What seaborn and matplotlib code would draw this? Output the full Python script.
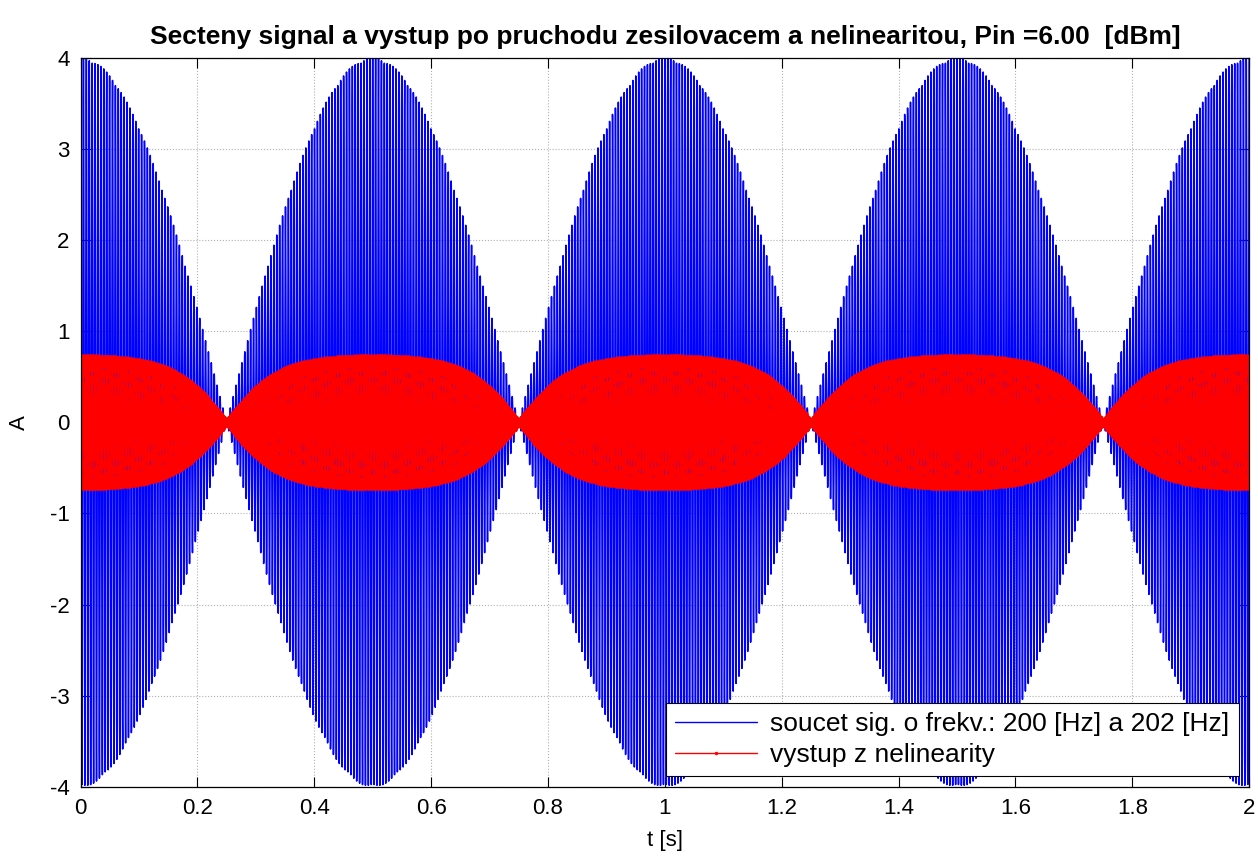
import numpy as np
import pandas as pd
import seaborn as sns
import matplotlib.pyplot as plt

# parametry signalu (z legendy a os)
f1 = 200.0          # [Hz]
f2 = 202.0          # [Hz]
amp = 2.0           # amplituda kazde slozky
fs = 5000.0         # vzorkovani
t_end = 2.0         # [s]
sat_level = 0.765   # uroven saturace nelinearity
gain = 0.42         # zisk pred nelinearitou
pin_dbm = 6.00

x_ticks = [0, 0.2, 0.4, 0.6, 0.8, 1.0, 1.2, 1.4, 1.6, 1.8, 2.0]
x_labels = ["0", "0.2", "0.4", "0.6", "0.8", "1", "1.2", "1.4", "1.6", "1.8", "2"]
y_ticks = [-4, -3, -2, -1, 0, 1, 2, 3, 4]

t = np.arange(0, t_end + 1 / fs, 1 / fs)
soucet = amp * np.cos(2 * np.pi * f1 * t) + amp * np.cos(2 * np.pi * f2 * t)
vystup = sat_level * np.tanh(gain * soucet)
df = pd.DataFrame({"t": t, "soucet": soucet, "vystup": vystup})

sns.set_style("ticks")
plt.rcParams["font.family"] = ["Liberation Sans", "DejaVu Sans"]
plt.rcParams["axes.unicode_minus"] = False
plt.rcParams["xtick.direction"] = "in"
plt.rcParams["ytick.direction"] = "in"
plt.rcParams["text.color"] = "black"
plt.rcParams["axes.labelcolor"] = "black"
plt.rcParams["xtick.color"] = "black"
plt.rcParams["ytick.color"] = "black"

fig, ax = plt.subplots(figsize=(12.58, 8.59), dpi=100)
fig.subplots_adjust(left=0.064, right=0.993, top=0.933, bottom=0.084)

sns.lineplot(data=df, x="t", y="soucet", ax=ax, estimator=None, sort=False,
             color="#0000ff", linewidth=1.1,
             label="soucet sig. o frekv.: %d [Hz] a %d [Hz]" % (f1, f2))
sns.lineplot(data=df, x="t", y="vystup", ax=ax, estimator=None, sort=False,
             color="#ff0000", linewidth=1.2, marker=".", markersize=9,
             markeredgewidth=0, label="vystup z nelinearity")

ax.set_xlim(0, t_end)
ax.set_ylim(-4, 4)
ax.set_xticks(x_ticks)
ax.set_xticklabels(x_labels)
ax.set_yticks(y_ticks)
ax.tick_params(labelsize=16, length=7, width=0.8, top=True, right=True, pad=8)
ax.grid(True, linestyle=":", color="#b0b0b0", linewidth=0.8)
ax.set_axisbelow(True)
for sp in ax.spines.values():
    sp.set_visible(True)
    sp.set_color("black")
    sp.set_linewidth(0.9)

ax.set_xlabel("t [s]", fontsize=16, labelpad=8)
ax.set_ylabel("A", fontsize=16, labelpad=14)
ax.set_title("Secteny signal a vystup po pruchodu zesilovacem a nelinearitou, Pin =%.2f  [dBm]" % pin_dbm,
             fontsize=19, fontweight="bold", pad=10)

leg = ax.legend(loc="lower right", fontsize=19, fancybox=False, framealpha=1,
                edgecolor="black", borderaxespad=0.4, handlelength=3.1,
                borderpad=0.35, labelspacing=0.25, handletextpad=0.5)
leg.get_frame().set_linewidth(0.8)
for h in leg.legend_handles:
    h.set_linewidth(1.0)
    h.set_markersize(5)

fig.savefig("out.png", dpi=100)
